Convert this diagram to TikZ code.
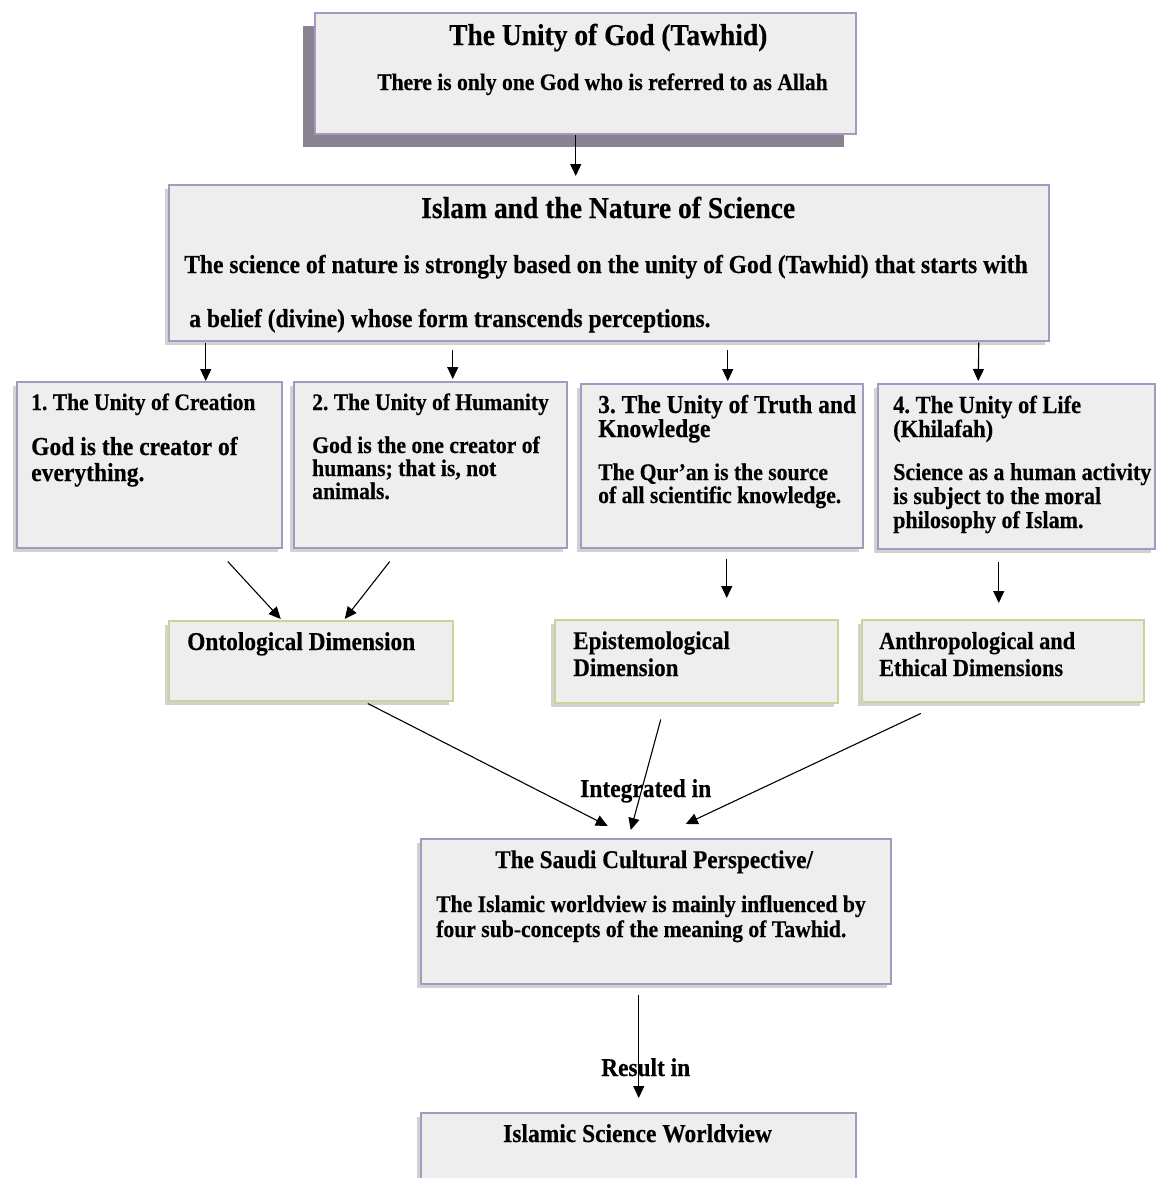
\documentclass[tikz,border=0pt]{standalone}
\usepackage{fontspec}
\setmainfont{Liberation Serif}[FakeStretch=0.91, BoldFeatures={FakeBold=0.35}]
\usetikzlibrary{arrows.meta,calc,shadows}
\definecolor{boxfill}{HTML}{EEEEEE}
\definecolor{lavborder}{HTML}{A898C0}
\definecolor{greenborder}{HTML}{C3D69B}
\definecolor{topshadow}{HTML}{8A8290}
\newcommand{\fsz}[1]{\fontsize{#1}{#1}\selectfont}
\frenchspacing
\begin{document}
\begin{tikzpicture}[x=1pt,y=-1pt,
  pbox/.style={draw=lavborder, line width=1.5pt, fill=boxfill, rectangle, inner sep=0pt, anchor=north west,
    drop shadow={shadow xshift=-4pt, shadow yshift=-4pt, fill=black!35, opacity=0.5}},
  gbox/.style={pbox, draw=greenborder},
  topbox/.style={draw=lavborder, line width=1.5pt, fill=boxfill, rectangle, inner sep=0pt, anchor=north west,
    drop shadow={shadow xshift=-12pt, shadow yshift=-13pt, fill=topshadow, opacity=1}},
  txt/.style={inner sep=0pt, anchor=base west},
  arr/.style={-{Triangle[length=12pt,width=11pt]}, line width=1.1pt, black}
]
\fill[white] (0,0) rectangle (1156,1178);
\useasboundingbox (0,0) rectangle (1156,1178);
\clip (0,0) rectangle (1156,1178);

% boxes
\node[topbox, minimum width=541pt, minimum height=121pt] (top) at (314,12) {};
\node[pbox, minimum width=880pt, minimum height=156pt] (nat) at (168,184) {};
\node[pbox, minimum width=265pt, minimum height=166pt] (ca) at (16,381) {};
\node[pbox, minimum width=273pt, minimum height=166pt] (cb) at (293,381) {};
\node[pbox, minimum width=282pt, minimum height=164pt] (cc) at (580,383) {};
\node[pbox, minimum width=277pt, minimum height=165pt] (cd) at (877,383) {};
\node[gbox, minimum width=284pt, minimum height=80pt] (onto) at (168,620) {};
\node[gbox, minimum width=283pt, minimum height=83pt] (epis) at (554,619) {};
\node[gbox, minimum width=282pt, minimum height=82pt] (anth) at (861,619) {};
\node[pbox, minimum width=470pt, minimum height=145pt] (saudi) at (420,838) {};
\node[pbox, minimum width=435pt, minimum height=90pt] (isw) at (420,1112) {};

% texts
\node[txt, font=\bfseries\fsz{30.2}] (t1) at (449,45) {The Unity of God (Tawhid)};
\node[txt, font=\bfseries\fsz{23.7}] (t2) at (377,90) {There is only one God who is referred to as Allah};

\node[txt, font=\bfseries\fsz{30.3}] (n1) at (421,218) {Islam and the Nature of Science};
\node[txt, font=\bfseries\fsz{25.9}] (n2) at (184,273) {The science of nature is strongly based on the unity of God (Tawhid) that starts with};
\node[txt, font=\bfseries\fsz{25.9}] (n3) at (189,327) {a belief (divine) whose form transcends perceptions.};

\node[txt, font=\bfseries\fsz{23.7}] (a1) at (31,410) {1. The Unity of Creation};
\node[txt, font=\bfseries\fsz{25.9}] (a2) at (31,455) {God is the creator of};
\node[txt, font=\bfseries\fsz{25.9}] (a3) at (31,481) {everything.};

\node[txt, font=\bfseries\fsz{23.7}] (b1) at (312,410) {2. The Unity of Humanity};
\node[txt, font=\bfseries\fsz{23.8}] (b2) at (312,453) {God is the one creator of};
\node[txt, font=\bfseries\fsz{23.8}] (b3) at (312,476) {humans; that is, not};
\node[txt, font=\bfseries\fsz{23.8}] (b4) at (312,499) {animals.};

\node[txt, font=\bfseries\fsz{25.8}] (c1) at (598,413) {3. The Unity of Truth and};
\node[txt, font=\bfseries\fsz{25.8}] (c2) at (598,437) {Knowledge};
\node[txt, font=\bfseries\fsz{23.8}] (c3) at (598,480) {The Qur’an is the source};
\node[txt, font=\bfseries\fsz{23.8}] (c4) at (598,503) {of all scientific knowledge.};

\node[txt, font=\bfseries\fsz{24.7}] (d1) at (893,413) {4. The Unity of Life};
\node[txt, font=\bfseries\fsz{24.7}] (d2) at (893,437) {(Khilafah)};
\node[txt, font=\bfseries\fsz{24.2}] (d3) at (893,480) {Science as a human activity};
\node[txt, font=\bfseries\fsz{24.2}] (d4) at (893,504) {is subject to the moral};
\node[txt, font=\bfseries\fsz{24.2}] (d5) at (893,528) {philosophy of Islam.};

\node[txt, font=\bfseries\fsz{25.7}] (o1) at (187,650) {Ontological Dimension};
\node[txt, font=\bfseries\fsz{25.4}] (e1) at (573,649) {Epistemological};
\node[txt, font=\bfseries\fsz{25.4}] (e2) at (573,676) {Dimension};
\node[txt, font=\bfseries\fsz{24.5}] (h1) at (879,649) {Anthropological and};
\node[txt, font=\bfseries\fsz{24.5}] (h2) at (879,676) {Ethical Dimensions};

\node[txt, font=\bfseries\fsz{25.8}] (integ) at (580,797) {Integrated in};

\node[txt, font=\bfseries\fsz{25.5}] (s1) at (495,868) {The Saudi Cultural Perspective/};
\node[txt, font=\bfseries\fsz{23.8}] (s2) at (436,912) {The Islamic worldview is mainly influenced by};
\node[txt, font=\bfseries\fsz{23.8}] (s3) at (436,937) {four sub-concepts of the meaning of Tawhid.};

\node[txt, font=\bfseries\fsz{25.7}] (res) at (601,1076) {Result in};
\node[txt, font=\bfseries\fsz{25.8}] (w1) at (503,1142) {Islamic Science Worldview};

% connectors
\draw[arr] ($(top.south)+(-9.5,0)$) -- ($(nat.north)+(-33,-8)$);
\draw[arr] ($(nat.south)+(-403,1)$) -- ($(ca.north)+(56.5,0)$);
\draw[arr] ($(nat.south)+(-156,8)$) -- ($(cb.north)+(22.5,-2)$);
\draw[arr] ($(nat.south)+(119,8)$) -- ($(cc.north)+(6,-2)$);
\draw[arr] ($(nat.south)+(370,1)$) -- ($(cd.north)+(-38,-2)$);
\draw[arr] ($(ca.south)+(78.5,13)$) -- ($(onto.north)+(-30,-1)$);
\draw[arr] ($(cb.south)+(-40.5,13)$) -- ($(onto.north)+(34,-1)$);
\draw[arr] ($(cc.south)+(5,10)$) -- ($(epis.north)+(30.5,-21)$);
\draw[arr] ($(cd.south)+(-17.5,12)$) -- ($(anth.north)+(-4,-16)$);
\draw[arr] ($(onto.south)+(57,2)$) -- ($(saudi.north)+(-48,-12)$);
\draw[arr] ($(epis.south)+(-35.5,16)$) -- ($(saudi.north)+(-25,-8)$);
\draw[arr] ($(anth.south)+(-82,11)$) -- ($(saudi.north)+(30,-14)$);
\draw[arr] ($(saudi.south)+(-17,10)$) -- ($(isw.north)+(0.5,-14)$);
\end{tikzpicture}
\end{document}
